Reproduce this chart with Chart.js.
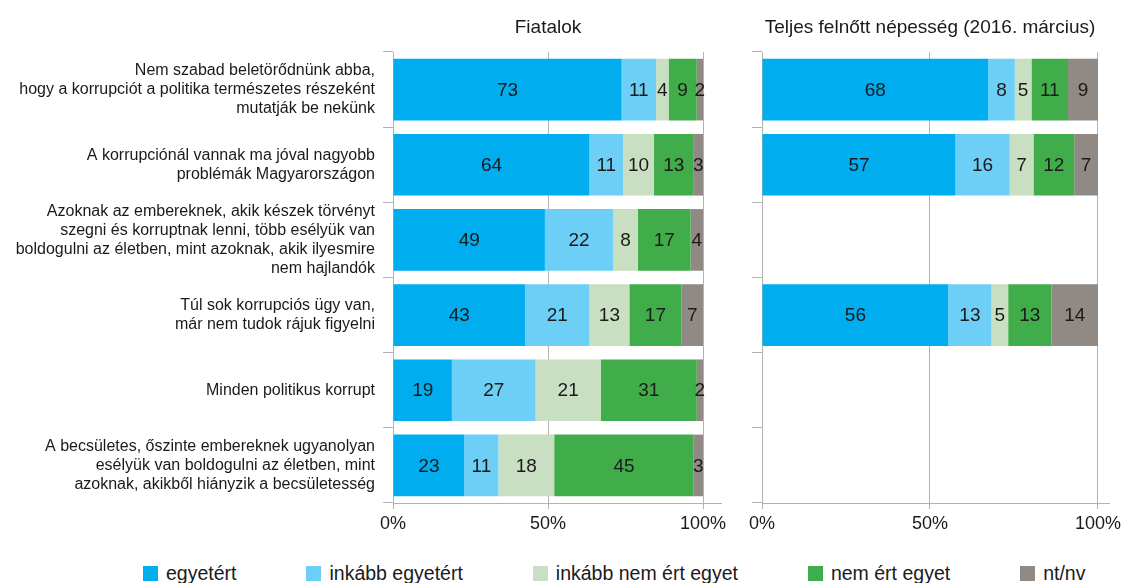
<!DOCTYPE html>
<html>
<head>
<meta charset="utf-8">
<script src="https://cdn.jsdelivr.net/npm/chart.js@4.4.1/dist/chart.umd.min.js"></script>
<style>
  body { margin: 0; background: #fff; width: 1121px; height: 583px; overflow: hidden; position: relative;
         font-family: "Liberation Sans", Arial, sans-serif; color: #1a1a1a; }
  #youthChart { position: absolute; left: 0; top: 0; }
  #adultChart { position: absolute; left: 740px; top: 0; }
  #legend { position: absolute; left: 143px; top: 562px; display: flex; gap: 70px; font-size: 19.5px; }
  .item { display: flex; align-items: center; white-space: nowrap; }
  .box { width: 15px; height: 15px; margin-right: 8px; }
</style>
</head>
<body>
<canvas id="youthChart" width="740" height="545"></canvas>
<canvas id="adultChart" width="385" height="545"></canvas>
<div id="legend"></div>
<script>
// statements (y categories)
const statements = [
  ["Nem szabad beletörődnünk abba,", "hogy a korrupciót a politika természetes részeként", "mutatják be nekünk"],
  ["A korrupciónál vannak ma jóval nagyobb", "problémák Magyarországon"],
  ["Azoknak az embereknek, akik készek törvényt", "szegni és korruptnak lenni, több esélyük van", "boldogulni az életben, mint azoknak, akik ilyesmire", "nem hajlandók"],
  ["Túl sok korrupciós ügy van,", "már nem tudok rájuk figyelni"],
  ["Minden politikus korrupt"],
  ["A becsületes, őszinte embereknek ugyanolyan", "esélyük van boldogulni az életben, mint", "azoknak, akikből hiányzik a becsületesség"]
];

const seriesNames = ["egyetért", "inkább egyetért", "inkább nem ért egyet", "nem ért egyet", "nt/nv"];
const seriesColors = ["#00adef", "#6dcff6", "#c9dfc1", "#40ad4a", "#918984"];

// Fiatalok
const youthAgree      = [73, 64, 49, 43, 19, 23];
const youthRather     = [11, 11, 22, 21, 27, 11];
const youthRatherNot  = [4, 10, 8, 13, 21, 18];
const youthDisagree   = [9, 13, 17, 17, 31, 45];
const youthNoAnswer   = [2, 3, 4, 7, 2, 3];

// Teljes felnőtt népesség (2016. március)
const adultAgree      = [68, 57, null, 56, null, null];
const adultRather     = [8, 16, null, 13, null, null];
const adultRatherNot  = [5, 7, null, 5, null, null];
const adultDisagree   = [11, 12, null, 13, null, null];
const adultNoAnswer   = [9, 7, null, 14, null, null];

const xTicks = [0, 50, 100];

const FONT = '"Liberation Sans", Arial, sans-serif';
const TEXT = '#1a1a1a';
const LINE = '#b3b3b3';

// rounded answers don't always add up to 100, so each bar is drawn as share of its row total
function buildDatasets(series) {
  const totals = series[0].map((_, j) => series.reduce((sum, s) => sum + (s[j] || 0), 0));
  return series.map((values, i) => ({
    label: seriesNames[i],
    raw: values,
    data: values.map((v, j) => v == null ? null : v / totals[j] * 100),
    backgroundColor: seriesColors[i],
    borderWidth: 0,
    barPercentage: 0.82,
    categoryPercentage: 1
  }));
}

// number in the middle of every segment
const segmentLabels = {
  id: 'segmentLabels',
  afterDatasetsDraw(chart) {
    const ctx = chart.ctx;
    ctx.save();
    ctx.font = '19px ' + FONT;
    ctx.fillStyle = TEXT;
    ctx.textAlign = 'center';
    ctx.textBaseline = 'middle';
    chart.data.datasets.forEach((ds, i) => {
      chart.getDatasetMeta(i).data.forEach((bar, j) => {
        const v = ds.raw[j];
        if (v == null) return;
        ctx.fillText(String(v), (bar.x + bar.base) / 2, bar.y + 1);
      });
    });
    ctx.restore();
  }
};

// panel title centred over the plot + little axis overhang on the right
const panelTitle = {
  id: 'panelTitle',
  afterDraw(chart, args, opts) {
    const { ctx, chartArea } = chart;
    ctx.save();
    ctx.font = '19px ' + FONT;
    ctx.fillStyle = TEXT;
    ctx.textAlign = 'center';
    ctx.textBaseline = 'middle';
    ctx.fillText(opts.text, (chartArea.left + chartArea.right) / 2, chartArea.top - 24);
    ctx.strokeStyle = LINE;
    ctx.lineWidth = 1;
    ctx.beginPath();
    ctx.moveTo(chartArea.right, Math.round(chartArea.bottom) + 0.5);
    ctx.lineTo(chartArea.right + opts.overhang, Math.round(chartArea.bottom) + 0.5);
    ctx.stroke();
    ctx.restore();
  }
};

function panelOptions(title, yWidth, rightPad, overhang, showLabels) {
  return {
    indexAxis: 'y',
    responsive: false,
    animation: false,
    layout: { padding: { top: 52, right: rightPad, left: 0, bottom: 0 } },
    plugins: {
      legend: { display: false },
      tooltip: { enabled: false },
      panelTitle: { text: title, overhang: overhang }
    },
    scales: {
      x: {
        stacked: true,
        min: 0,
        max: 100,
        afterBuildTicks: s => { s.ticks = xTicks.map(v => ({ value: v })); },
        afterFit: s => { s.height = 42; },
        grid: { color: LINE, tickLength: 6 },
        border: { color: LINE },
        ticks: { callback: v => v + '%', font: { size: 18, family: FONT }, color: TEXT, padding: 4, maxRotation: 0 }
      },
      y: {
        stacked: true,
        afterFit: s => { s.width = yWidth; },
        grid: { offset: true, drawOnChartArea: false, tickLength: 10, color: LINE },
        border: { color: LINE },
        ticks: { display: showLabels, font: { size: 16, family: FONT, lineHeight: 1.2 }, color: TEXT, padding: 8, autoSkip: false }
      }
    }
  };
}

new Chart(document.getElementById('youthChart'), {
  type: 'bar',
  data: {
    labels: statements,
    datasets: buildDatasets([youthAgree, youthRather, youthRatherNot, youthDisagree, youthNoAnswer])
  },
  options: panelOptions('Fiatalok', 393, 37, 19, true),
  plugins: [segmentLabels, panelTitle]
});

new Chart(document.getElementById('adultChart'), {
  type: 'bar',
  data: {
    labels: statements,
    datasets: buildDatasets([adultAgree, adultRather, adultRatherNot, adultDisagree, adultNoAnswer])
  },
  options: panelOptions('Teljes felnőtt népesség (2016. március)', 22, 19, 12, false),
  plugins: [segmentLabels, panelTitle]
});

// legend
const legend = document.getElementById('legend');
seriesNames.forEach((name, i) => {
  const item = document.createElement('div');
  item.className = 'item';
  item.innerHTML = `<span class="box" style="background:${seriesColors[i]}"></span><span>${name}</span>`;
  legend.appendChild(item);
});
</script>
</body>
</html>
